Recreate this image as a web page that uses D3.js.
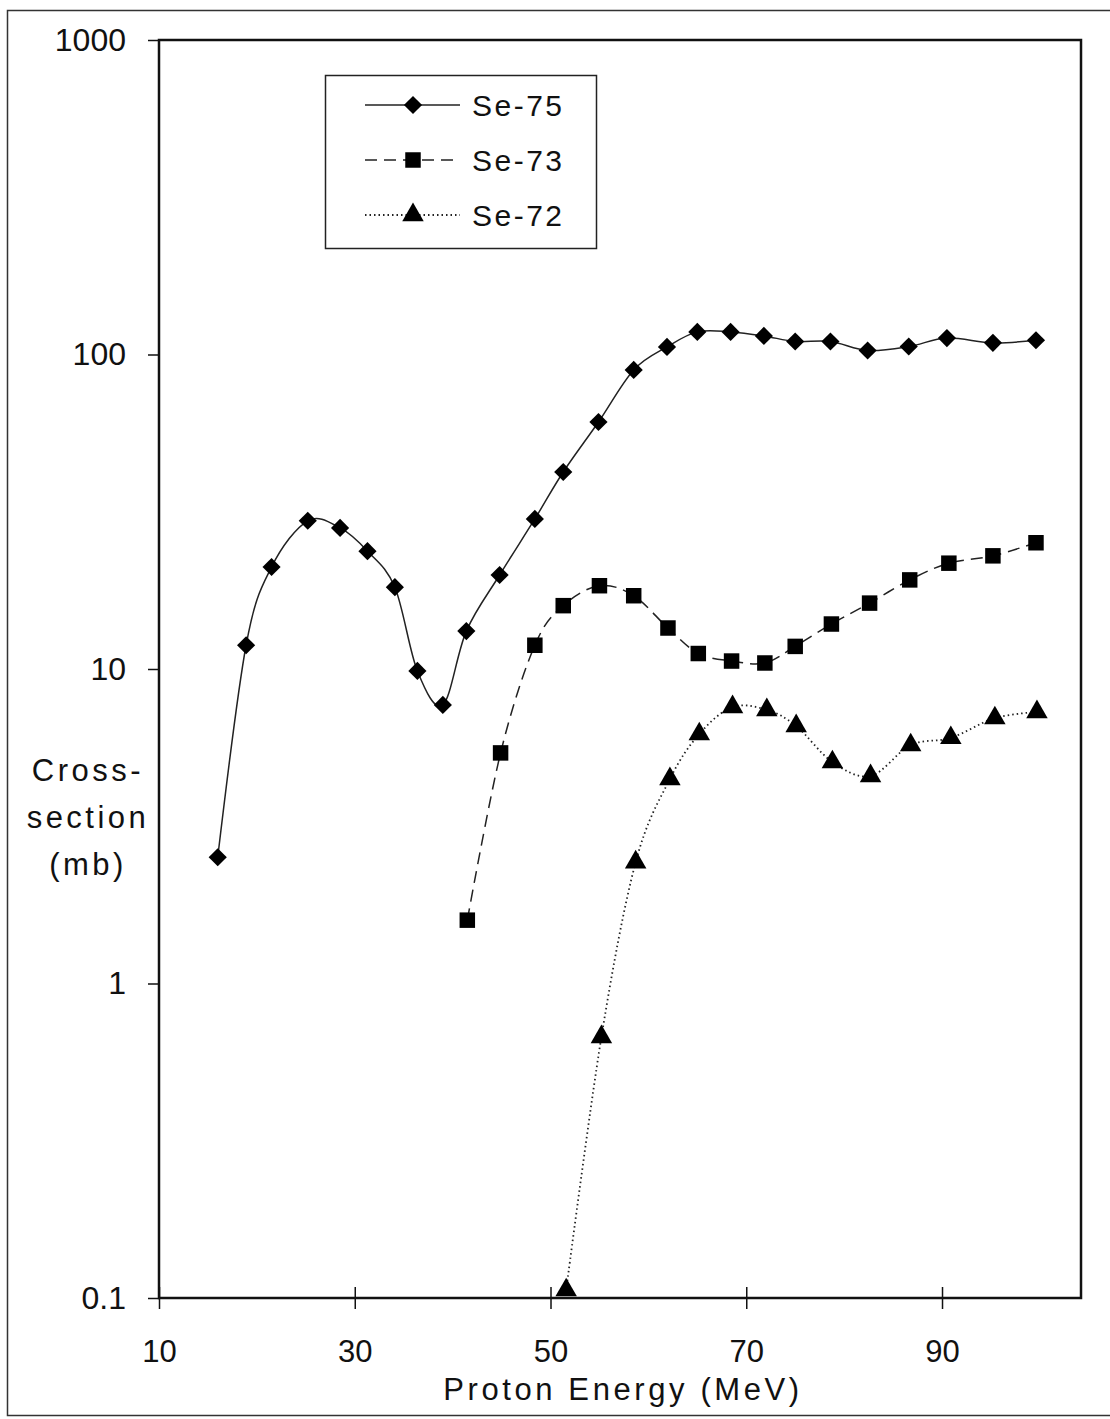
<!DOCTYPE html>
<html>
<head>
<meta charset="utf-8">
<script src="https://cdn.jsdelivr.net/npm/d3@7"></script>
<style>
  body { margin: 0; background: #fff; }
  svg { display: block; font-family: "Liberation Sans", Arial, sans-serif; }
</style>
</head>
<body>
<div id="chart"></div>
<script>
// Proton energy (MeV) and cross-section (mb)
const se75Energy = [16.0, 18.9, 21.5, 25.2, 28.5, 31.3, 34.1, 36.4, 39.0, 41.4, 44.8, 48.4, 51.3, 54.9, 58.5, 61.9, 65.0, 68.4, 71.8, 75.0, 78.6, 82.4, 86.6, 90.5, 95.2, 99.6];
const se75Values = [2.52, 11.9, 21.1, 29.6, 28.1, 23.7, 18.2, 9.86, 7.69, 13.2, 19.9, 30.0, 42.3, 61.0, 89.3, 105.7, 118, 118, 114.6, 110, 110, 103, 106, 112.8, 108.9, 111];

const se73Energy = [41.5, 44.9, 48.4, 51.3, 55.0, 58.5, 62.0, 65.1, 68.5, 71.9, 75.0, 78.7, 82.6, 86.7, 90.7, 95.2, 99.6];
const se73Values = [1.59, 5.41, 11.9, 15.9, 18.4, 17.1, 13.5, 11.2, 10.6, 10.45, 11.8, 13.9, 16.2, 19.2, 21.7, 22.9, 25.2];

const se72Energy = [51.6, 55.2, 58.7, 62.2, 65.2, 68.6, 72.1, 75.1, 78.8, 82.7, 86.8, 90.9, 95.4, 99.7];
const se72Values = [0.106, 0.676, 2.43, 4.47, 6.21, 7.57, 7.41, 6.59, 5.06, 4.57, 5.73, 6.04, 6.98, 7.30];

const xTicks = [10, 30, 50, 70, 90];
const yTicks = [0.1, 1, 10, 100, 1000];

const W = 1110, H = 1419;
const margin = { top: 40, right: 29, bottom: 121, left: 159 };
const width = W - margin.left - margin.right;
const height = H - margin.top - margin.bottom;

const svg = d3.select('#chart').append('svg')
  .attr('width', W)
  .attr('height', H);

// outer frame
svg.append('rect')
  .attr('x', 7.5).attr('y', 10.5)
  .attr('width', W + 10).attr('height', 1405)
  .attr('fill', 'none').attr('stroke', '#333').attr('stroke-width', 1.5);

const g = svg.append('g')
  .attr('transform', 'translate(' + margin.left + ',' + margin.top + ')');

const x = d3.scaleLinear().domain([10, 104.2]).range([0, width]);
const y = d3.scaleLog().domain([0.1, 1000]).range([height, 0]);

// plot area frame
g.append('rect')
  .attr('width', width).attr('height', height)
  .attr('fill', 'none').attr('stroke', '#111').attr('stroke-width', 2.5);

// x axis: ticks cross the line
const xAxis = g.append('g')
  .attr('transform', 'translate(0,' + height + ')')
  .call(d3.axisBottom(x).tickValues(xTicks).tickSize(11).tickPadding(31).tickFormat(d3.format('d')));
xAxis.select('.domain').remove();
xAxis.selectAll('.tick line').attr('y1', -11).attr('stroke', '#111').attr('stroke-width', 1.5);
xAxis.selectAll('.tick text')
  .attr('font-size', 31).attr('fill', '#111')
  .attr('font-family', '"Liberation Sans", Arial, sans-serif');

// y axis: ticks outside
const yAxis = g.append('g')
  .call(d3.axisLeft(y).tickValues(yTicks).tickSize(11).tickPadding(22).tickFormat(d => d < 1 ? '0.1' : d3.format('d')(d)));
yAxis.select('.domain').remove();
yAxis.selectAll('.tick line').attr('stroke', '#111').attr('stroke-width', 1.5);
yAxis.selectAll('.tick text')
  .attr('font-size', 32).attr('fill', '#111')
  .attr('font-family', '"Liberation Sans", Arial, sans-serif');

// axis titles
svg.append('text')
  .attr('x', 623).attr('y', 1400)
  .attr('text-anchor', 'middle')
  .attr('font-size', 31).attr('letter-spacing', 3.6).attr('fill', '#111')
  .text('Proton Energy (MeV)');

const yTitle = ['Cross-', 'section', '(mb)'];
svg.append('g').selectAll('text')
  .data(yTitle)
  .enter().append('text')
  .attr('x', 88)
  .attr('y', (d, i) => 781 + i * 47)
  .attr('text-anchor', 'middle')
  .attr('font-size', 31).attr('letter-spacing', 3.5).attr('fill', '#111')
  .text(d => d);

// series
const series = [
  { name: 'Se-75', xs: se75Energy, ys: se75Values, dash: null, symbol: d3.symbolSquare, size: 165, rot: 45 },
  { name: 'Se-73', xs: se73Energy, ys: se73Values, dash: '12,7', symbol: d3.symbolSquare, size: 240, rot: 0 },
  { name: 'Se-72', xs: se72Energy, ys: se72Values, dash: '1.5,3', symbol: d3.symbolTriangle, size: 200, rot: 0 }
];

const line = d3.line()
  .x(d => x(d[0]))
  .y(d => y(d[1]))
  .curve(d3.curveCatmullRom.alpha(0));

series.forEach(s => {
  const pts = s.xs.map((v, i) => [v, s.ys[i]]);
  g.append('path')
    .datum(pts)
    .attr('d', line)
    .attr('fill', 'none')
    .attr('stroke', '#222')
    .attr('stroke-width', s.dash === '1.5,3' ? 1.8 : 1.5)
    .attr('stroke-dasharray', s.dash);

  g.selectAll(null)
    .data(pts)
    .enter().append('path')
    .attr('transform', d => 'translate(' + x(d[0]) + ',' + y(d[1]) + ') rotate(' + s.rot + ')')
    .attr('d', d3.symbol().type(s.symbol).size(s.size))
    .attr('fill', '#000');
});

// legend
const legend = svg.append('g');
legend.append('rect')
  .attr('x', 325.5).attr('y', 75.5)
  .attr('width', 271).attr('height', 173)
  .attr('fill', '#fff').attr('stroke', '#222').attr('stroke-width', 1.5);

series.forEach((s, i) => {
  const cy = 105 + i * 55;
  legend.append('line')
    .attr('x1', 365).attr('x2', 460)
    .attr('y1', cy).attr('y2', cy)
    .attr('stroke', '#222')
    .attr('stroke-width', s.dash === '1.5,3' ? 1.8 : 1.5)
    .attr('stroke-dasharray', s.dash);
  legend.append('path')
    .attr('transform', 'translate(413,' + cy + ') rotate(' + s.rot + ')')
    .attr('d', d3.symbol().type(s.symbol).size(s.size))
    .attr('fill', '#000');
  legend.append('text')
    .attr('x', 472).attr('y', cy + 11)
    .attr('font-size', 30).attr('letter-spacing', 2.5).attr('fill', '#111')
    .text(s.name);
});
</script>
</body>
</html>
